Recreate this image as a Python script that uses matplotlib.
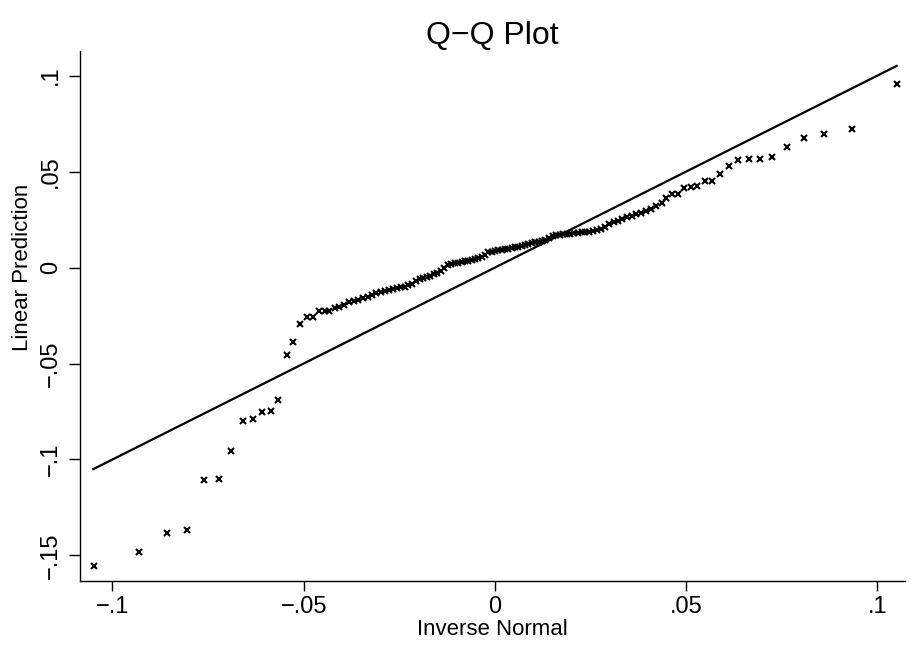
import numpy as np
import matplotlib
matplotlib.use("Agg")
from matplotlib import pyplot as plt
from matplotlib.ticker import FuncFormatter

plt.rcParams['font.family'] = ['Liberation Sans', 'DejaVu Sans']

# inverse normal (x) and linear prediction (y)
inv_normal = [
    -0.1048, -0.0932, -0.0858, -0.0804, -0.0760, -0.0722, -0.0689, -0.0660,
    -0.0633, -0.0609, -0.0586, -0.0567, -0.0545, -0.0527, -0.0509, -0.0492,
    -0.0477, -0.0459, -0.0445, -0.0433, -0.0418, -0.0407,
    -0.03947, -0.03817, -0.03690, -0.03570, -0.03449, -0.03332, -0.03217,
    -0.03104, -0.02993, -0.02884, -0.02778, -0.02673, -0.02568, -0.02466,
    -0.02365, -0.02264, -0.02165, -0.02067, -0.01970, -0.01877, -0.01781,
    -0.01687, -0.01595, -0.01504, -0.01413, -0.01320, -0.01230, -0.01141,
    -0.01051, -0.00962, -0.00874, -0.00784, -0.00697, -0.00609, -0.00522,
    -0.00434, -0.00347, -0.00260, -0.00173, -0.00087, 0.0,
    0.00087, 0.00173, 0.00260, 0.00347, 0.00434, 0.00522, 0.00609, 0.00697,
    0.00784, 0.00874, 0.00962, 0.01051, 0.01141, 0.01230, 0.01320, 0.01413,
    0.01504, 0.01595, 0.01687, 0.01781, 0.01877, 0.01970, 0.02067, 0.02165,
    0.02264, 0.02365, 0.02466, 0.02568, 0.02673, 0.02778, 0.02884, 0.02993,
    0.03104, 0.03217, 0.03332, 0.03449, 0.03570, 0.03690, 0.03817, 0.03947,
    0.04079, 0.04215, 0.04357,
    0.0447, 0.0463, 0.0478, 0.0495, 0.0512, 0.0529, 0.0549, 0.0567, 0.0588,
    0.0612, 0.0636, 0.0663, 0.0692, 0.0725, 0.0763, 0.0807, 0.0861, 0.0934,
    0.1050,
]
lin_pred = [
    -0.1555, -0.1480, -0.1384, -0.1369, -0.1107, -0.1100, -0.0956, -0.0801,
    -0.0789, -0.0753, -0.0746, -0.0690, -0.0456, -0.0386, -0.0294, -0.0259,
    -0.0259, -0.0228, -0.0228, -0.0228, -0.0213, -0.0204,
    -0.0193, -0.0182, -0.0175, -0.0169, -0.0161, -0.0153, -0.0144, -0.0135,
    -0.0127, -0.0122, -0.0117, -0.0112, -0.0108, -0.0104, -0.0099, -0.0093,
    -0.0085, -0.0070, -0.0060, -0.0055, -0.0049, -0.0043, -0.0036, -0.0029,
    -0.0018, -0.0003, 0.0013, 0.0018, 0.0021, 0.0026, 0.0030, 0.0033, 0.0036,
    0.0038, 0.0042, 0.0049, 0.0057, 0.0066, 0.0079, 0.0083, 0.0086,
    0.0090, 0.0093, 0.0096, 0.0099, 0.0102, 0.0105, 0.0108, 0.0111, 0.0116,
    0.0121, 0.0126, 0.0131, 0.0135, 0.0140, 0.0144, 0.0154, 0.0163, 0.0169,
    0.0171, 0.0173, 0.0175, 0.0177, 0.0179, 0.0181, 0.0183, 0.0185, 0.0187,
    0.0190, 0.0193, 0.0199, 0.0212, 0.0225, 0.0235, 0.0244, 0.0254, 0.0262,
    0.0270, 0.0279, 0.0285, 0.0293, 0.0307, 0.0320, 0.0336,
    0.0364, 0.0383, 0.0383, 0.0413, 0.0418, 0.0423, 0.0452, 0.0452, 0.0485,
    0.0529, 0.0558, 0.0565, 0.0565, 0.0574, 0.0628, 0.0676, 0.0697, 0.0723,
    0.0954,
]
ref_line = [-0.105, 0.105]
xticks = [-0.1, -0.05, 0, 0.05, 0.1]
yticks = [-0.15, -0.1, -0.05, 0, 0.05, 0.1]


def stata_fmt(v, pos=None):
    s = ('%g' % round(v, 4))
    if s == '0':
        return '0'
    s = s.replace('0.', '.')
    return s.replace('-', '\u2212')


fig = plt.figure(figsize=(9.1, 6.48), dpi=100)
ax = fig.add_axes([0.0879, 0.1034, 0.9066, 0.8185])

ax.plot(inv_normal, lin_pred, linestyle='none', marker='x', color='black',
        markersize=4.5, markeredgewidth=1.5)
ax.plot(ref_line, ref_line, color='black', linewidth=1.6)

ax.set_xlim(-0.1085, 0.1072)
ax.set_ylim(-0.1633, 0.113)
ax.set_xticks(xticks)
ax.set_yticks(yticks)
ax.xaxis.set_major_formatter(FuncFormatter(stata_fmt))
ax.yaxis.set_major_formatter(FuncFormatter(stata_fmt))
ax.tick_params(direction='out', length=7, width=1, labelsize=17)
ax.tick_params(axis='y', length=8, pad=5)
for lab in ax.get_yticklabels():
    lab.set_rotation(90)
    lab.set_va('center')

ax.spines['top'].set_visible(False)
ax.spines['right'].set_visible(False)
ax.spines['left'].set_linewidth(1)
ax.spines['bottom'].set_linewidth(1)

ax.set_xlabel('Inverse Normal', fontsize=16, labelpad=1)
ax.set_ylabel('Linear Prediction', fontsize=16)
ax.yaxis.set_label_coords(-0.057, 0.592)
ax.set_title('Q\u2212Q Plot', fontsize=23, pad=5)

fig.savefig('out.png', dpi=100)
